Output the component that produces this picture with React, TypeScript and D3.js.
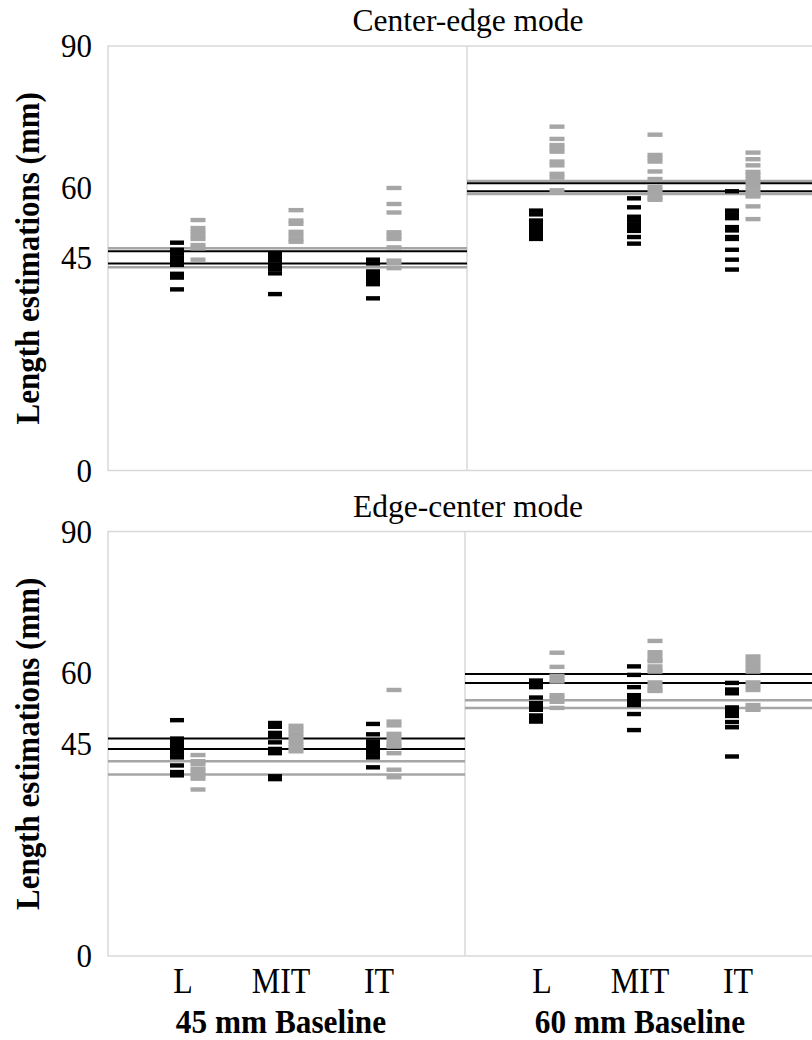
import React from "react";
import * as d3 from "d3";

const categories = ["L", "MIT", "IT"];
const baselines = ["45 mm Baseline", "60 mm Baseline"];
const modes = ["Center-edge mode", "Edge-center mode"];
const yTicks = [0, 45, 60, 90];

// Center-edge mode: estimates per category (L, MIT, IT)
const ce45Black = [
  [48.3, 46.8, 46.0, 45.2, 44.4, 43.6, 41.7, 40.9, 38.4],
  [46.1, 45.3, 44.5, 43.6, 42.7, 41.8, 37.4],
  [44.7, 43.9, 42.2, 41.4, 40.6, 39.8, 39.5, 36.5],
];
const ce45Gray = [
  [53.1, 51.4, 50.6, 49.8, 49.1, 47.8, 47.1, 44.7],
  [55.2, 53.0, 52.3, 50.6, 49.8, 49.0, 48.5],
  [59.9, 56.5, 54.7, 50.5, 49.7, 49.1, 47.3, 44.5, 43.9, 42.9],
];
const ce60Black = [
  [55.1, 54.3, 53.0, 52.2, 51.4, 50.6, 49.8, 49.1],
  [57.7, 55.8, 53.8, 53.0, 52.2, 51.4, 50.8, 49.5, 48.1],
  [59.2, 55.1, 54.3, 53.5, 51.6, 50.9, 49.5, 49.1, 46.8, 44.7, 42.6],
];
const ce60Gray = [
  [72.9, 70.3, 69.0, 68.3, 67.6, 65.5, 64.7, 62.9, 62.1, 59.4],
  [71.2, 66.9, 66.2, 65.5, 63.4, 61.8, 60.1, 59.3, 58.5, 57.7, 57.4],
  [67.4, 66.0, 64.7, 63.3, 62.6, 61.8, 61.0, 60.2, 59.4, 58.6, 58.1, 56.0, 53.3],
];

// Edge-center mode
const ec45Black = [
  [50.0, 46.1, 45.4, 44.7, 43.9, 43.1, 42.3, 42.1, 40.4, 39.0, 38.3],
  [49.4, 48.6, 47.3, 46.7, 45.3, 43.9, 43.0, 38.1, 37.5],
  [49.2, 47.0, 45.5, 44.7, 43.9, 43.1, 42.3, 42.1, 40.0],
];
const ec45Gray = [
  [42.6, 41.3, 40.7, 39.7, 39.0, 38.3, 37.6, 35.3],
  [48.8, 48.0, 47.2, 46.4, 45.6, 44.8, 44.0, 43.4],
  [56.4, 49.7, 48.9, 47.1, 46.3, 45.5, 44.7, 44.4, 43.0, 39.5, 37.9],
];
const ec60Black = [
  [58.4, 57.7, 57.0, 54.8, 53.6, 52.9, 52.2, 51.0, 50.3, 49.7],
  [61.4, 59.6, 57.0, 55.3, 54.5, 53.7, 53.2, 51.3, 47.9],
  [57.9, 56.5, 55.7, 52.7, 51.9, 51.1, 50.9, 49.6, 48.5, 42.3],
];
const ec60Gray = [
  [64.3, 61.3, 59.4, 58.7, 58.2, 55.3, 54.6, 53.9, 52.6],
  [66.8, 64.4, 63.6, 62.8, 62.5, 61.4, 60.6, 60.3, 58.0, 57.2, 56.4, 56.2],
  [63.5, 62.7, 61.9, 61.1, 60.3, 58.0, 57.2, 56.4, 53.2, 52.4, 52.2],
];

// Reference lines
const ce45LinesBlack = [46.5, 43.9];
const ce45LinesGray = [47.1, 43.1];
const ce60LinesBlack = [60.9, 59.2];
const ce60LinesGray = [61.4, 58.6];
const ec45LinesBlack = [46.1, 43.9];
const ec45LinesGray = [41.3, 38.5];
const ec60LinesBlack = [59.8, 57.9];
const ec60LinesGray = [54.2, 52.6];

const BLACK = "#000000";
const GRAY = "#a6a6a6";
const FRAME = "#d9d9d9";
const FONT = "'Liberation Serif', 'Times New Roman', serif";
const SY = 1.1;

const panelsData = [
  {
    mode: modes[0],
    top: 46,
    bottom: 470.5,
    split: 467,
    titleY: 31,
    groups: [
      { black: ce45Black, gray: ce45Gray, lb: ce45LinesBlack, lg: ce45LinesGray },
      { black: ce60Black, gray: ce60Gray, lb: ce60LinesBlack, lg: ce60LinesGray },
    ],
  },
  {
    mode: modes[1],
    top: 531.5,
    bottom: 956,
    split: 465,
    titleY: 517,
    groups: [
      { black: ec45Black, gray: ec45Gray, lb: ec45LinesBlack, lg: ec45LinesGray },
      { black: ec60Black, gray: ec60Gray, lb: ec60LinesBlack, lg: ec60LinesGray },
    ],
  },
];

const LEFT = 108;
const RIGHT = 826;
const GROUP_W = 359;

function xScaleFor(gi: number) {
  const x0 = LEFT + gi * GROUP_W;
  return d3.scalePoint<string>().domain(categories).range([x0 + 73, x0 + 269]);
}

function T(props: { x: number; y: number; size: number; bold?: boolean; anchor?: string; rotate?: boolean; dy?: number; sy?: number; children: any }) {
  const { x, y, size, bold, anchor, rotate, dy, children } = props;
  const sy = props.sy ?? SY;
  const tr = `translate(${x},${y})${rotate ? " rotate(-90)" : ""} scale(1,${sy})`;
  return (
    <text
      transform={tr}
      y={dy || 0}
      textAnchor={anchor || "middle"}
      fontSize={size}
      fontWeight={bold ? "bold" : "normal"}
      fill="#000"
    >
      {children}
    </text>
  );
}

export default function App() {
  const W = 812;
  const H = 1040;
  return (
    <svg
      width={W}
      height={H}
      style={{ position: "absolute", left: 0, top: 0, background: "#fff" }}
      fontFamily={FONT}
    >
      <rect x={0} y={0} width={W} height={H} fill="#fff" />
      {panelsData.map((p, pi) => {
        const y = d3.scaleLinear().domain([0, 90]).range([p.bottom, p.top]);
        const midY = (p.top + p.bottom) / 2;
        return (
          <g key={pi}>
            <T x={468} y={p.titleY} size={31.5} sy={1}>
              {p.mode}
            </T>
            <rect
              x={LEFT}
              y={p.top}
              width={RIGHT - LEFT}
              height={p.bottom - p.top}
              fill="none"
              stroke={FRAME}
              strokeWidth={1.5}
            />
            <line x1={p.split} x2={p.split} y1={p.top} y2={p.bottom} stroke={FRAME} strokeWidth={1.5} />
            {yTicks.map((t) => (
              <T key={t} x={92} y={y(t)} dy={10} size={31} anchor="end">
                {t}
              </T>
            ))}
            <T x={39} y={midY} size={31} bold rotate>
              Length estimations (mm)
            </T>
            {p.groups.map((g, gi) => {
              const xs = xScaleFor(gi);
              const gx0 = gi === 0 ? LEFT : p.split;
              const gx1 = gi === 0 ? p.split : RIGHT;
              return (
                <g key={gi}>
                  {g.lg.map((v, i) => (
                    <line key={"lg" + i} x1={gx0} x2={gx1} y1={y(v)} y2={y(v)} stroke={GRAY} strokeWidth={2.5} />
                  ))}
                  {g.lb.map((v, i) => (
                    <line key={"lb" + i} x1={gx0} x2={gx1} y1={y(v)} y2={y(v)} stroke={BLACK} strokeWidth={2} />
                  ))}
                  {categories.map((c, ci) => (
                    <g key={c}>
                      {g.black[ci].map((v, i) => (
                        <rect
                          key={"b" + i}
                          x={(xs(c) as number) - 4 - 7}
                          y={y(v) - 2.2}
                          width={14}
                          height={4.4}
                          fill={BLACK}
                        />
                      ))}
                      {g.gray[ci].map((v, i) => (
                        <rect
                          key={"g" + i}
                          x={(xs(c) as number) + 17 - 7.5}
                          y={y(v) - 2.2}
                          width={15}
                          height={4.4}
                          fill={GRAY}
                        />
                      ))}
                    </g>
                  ))}
                </g>
              );
            })}
          </g>
        );
      })}
      {baselines.map((b, gi) => {
        const xs = xScaleFor(gi);
        return (
          <g key={b}>
            {categories.map((c) => (
              <T key={c} x={(xs(c) as number) + 2} y={993} size={32}>
                {c}
              </T>
            ))}
            <T x={(xs(categories[1]) as number) + 2} y={1033} size={31.3} bold>
              {b}
            </T>
          </g>
        );
      })}
    </svg>
  );
}
